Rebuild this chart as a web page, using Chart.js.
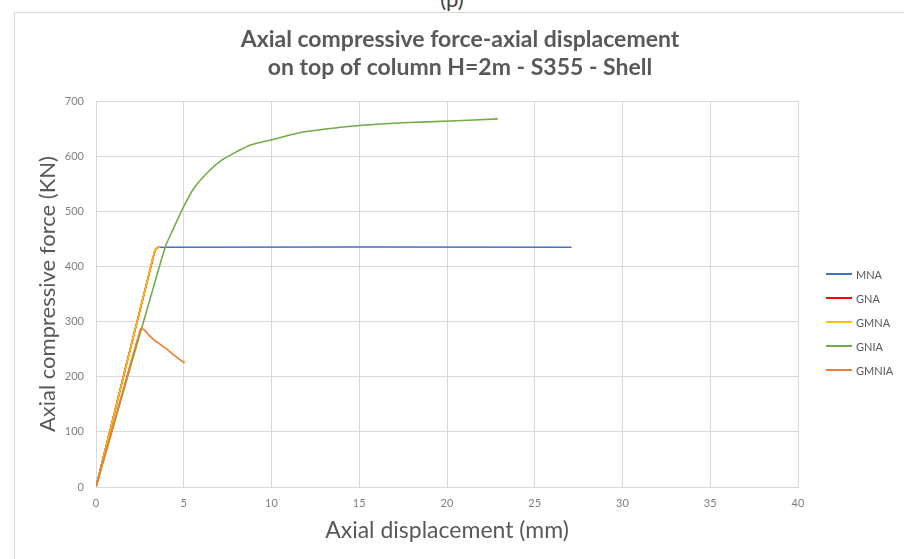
<!DOCTYPE html>
<html>
<head>
<meta charset="utf-8">
<script src="https://cdn.jsdelivr.net/npm/chart.js@4/dist/chart.umd.min.js"></script>
<style>
  html, body { margin: 0; padding: 0; background: #fff; overflow: hidden; }
  body { width: 904px; height: 559px; position: relative; font-family: Lato, sans-serif; }
  .frame { position: absolute; left: 14px; top: 12px; width: 900px; height: 560px; border: 1px solid #d9d9d9; }
  .caption { position: absolute; top: -15px; left: 0; width: 904px; text-align: center; font-size: 22px; color: #404040; }
  #chart { position: absolute; left: 0; top: 0; }
  #legend { position: absolute; left: 826px; top: 267px; display: flex; flex-direction: column; gap: 10px; }
  #legend .item { display: flex; align-items: center; height: 14px; font-size: 11px; color: #595959; }
  #legend .swatch { width: 26px; height: 0; border-top: 2px solid; margin-right: 4px; }
</style>
</head>
<body>
<div class="caption">(p)</div>
<div class="frame"></div>
<canvas id="chart" width="904" height="559"></canvas>
<div id="legend"></div>
<script>
// Axial displacement (mm) / axial force (kN) for each analysis type
const mnaX = [0, 3.35, 3.55, 27.1];
const mnaY = [0, 428, 435, 435];

const gnaX = [0, 1.0, 2.0, 3.0, 3.35, 3.5, 3.65];
const gnaY = [0, 128, 256, 384, 428, 434, 436];

const gmnaX = [0, 1.0, 2.0, 3.0, 3.35, 3.5, 3.65];
const gmnaY = [0, 128, 256, 384, 428, 434, 436];

const gniaX = [0, 1.0, 2.0, 2.9, 3.5, 4.0, 4.4, 4.95, 5.6, 6.4, 7.16, 8.0, 8.77, 10.0, 11.8, 13.5, 15.0, 17.5, 20.2, 22.9];
const gniaY = [0, 111, 222, 321, 388, 440, 468, 506, 543, 572, 593, 608, 620, 630, 644, 651, 656, 661, 664, 668];

const gmniaX = [0, 1.0, 2.0, 2.4, 2.55, 2.75, 3.0, 3.3, 3.65, 4.0, 4.5, 5.05];
const gmniaY = [0, 114, 228, 272, 287, 285, 276, 267, 259, 251, 238, 225];

const seriesNames = ['MNA', 'GNA', 'GMNA', 'GNIA', 'GMNIA'];
const seriesColors = ['#4472C4', '#FF0000', '#FFC000', '#70AD47', '#ED7D31'];

const xTicks = [0, 5, 10, 15, 20, 25, 30, 35, 40];
const yTicks = [0, 100, 200, 300, 400, 500, 600, 700];

const toPoints = (xs, ys) => xs.map((x, i) => ({ x, y: ys[i] }));
const allSeries = [
  toPoints(mnaX, mnaY),
  toPoints(gnaX, gnaY),
  toPoints(gmnaX, gmnaY),
  toPoints(gniaX, gniaY),
  toPoints(gmniaX, gmniaY)
];

const datasets = allSeries.map((pts, i) => ({
  label: seriesNames[i],
  data: pts,
  showLine: true,
  borderColor: seriesColors[i],
  backgroundColor: seriesColors[i],
  borderWidth: 1.6,
  pointRadius: 0,
  tension: 0.2,
  order: seriesNames.length - i // later series drawn on top
}));

Chart.defaults.font.family = 'Lato, sans-serif';
Chart.defaults.color = '#595959';

const chart = new Chart(document.getElementById('chart').getContext('2d'), {
  type: 'scatter',
  data: { datasets },
  options: {
    responsive: false,
    animation: false,
    layout: { padding: { left: 31, right: 15, top: 26, bottom: 11 } },
    plugins: {
      title: {
        display: true,
        text: ['Axial compressive force-axial displacement', 'on top of column H=2m - S355 - Shell'],
        font: { size: 23, weight: 'bold' },
        color: '#595959',
        lineHeight: 1.22,
        padding: { top: 0, bottom: 20 }
      },
      legend: { display: false },
      tooltip: { enabled: false }
    },
    scales: {
      x: {
        type: 'linear',
        min: 0,
        max: 40,
        afterBuildTicks: (axis) => { axis.ticks = xTicks.map(v => ({ value: v })); },
        afterFit: (scale) => { scale.height = 61; },
        grid: { color: '#d9d9d9', drawTicks: false },
        border: { color: '#d9d9d9' },
        ticks: { font: { size: 11 }, color: '#7f7f7f', padding: 10 },
        title: { display: true, text: 'Axial displacement (mm)', font: { size: 23 }, color: '#595959', padding: { top: 6, bottom: 4 } }
      },
      y: {
        type: 'linear',
        min: 0,
        max: 700,
        afterBuildTicks: (axis) => { axis.ticks = yTicks.map(v => ({ value: v })); },
        afterFit: (scale) => { scale.width = 65; },
        grid: { color: '#d9d9d9', drawTicks: false },
        border: { display: false },
        ticks: { font: { size: 11 }, color: '#7f7f7f', padding: 12 },
        title: { display: true, text: 'Axial compressive force (KN)', font: { size: 22 }, color: '#595959', padding: { top: 4, bottom: 5 } }
      },
      // empty axis that reserves the space the legend sits in
      legendSpace: {
        type: 'linear',
        position: 'right',
        grid: { display: false },
        border: { display: false },
        ticks: { display: false },
        afterFit: (scale) => { scale.width = 91; }
      }
    }
  }
});

// legend drawn as html next to the plot
const legendEl = document.getElementById('legend');
chart.data.datasets.forEach((ds) => {
  const item = document.createElement('div');
  item.className = 'item';
  const swatch = document.createElement('span');
  swatch.className = 'swatch';
  swatch.style.borderTopColor = ds.borderColor;
  const label = document.createElement('span');
  label.textContent = ds.label;
  item.appendChild(swatch);
  item.appendChild(label);
  legendEl.appendChild(item);
});
</script>
</body>
</html>
